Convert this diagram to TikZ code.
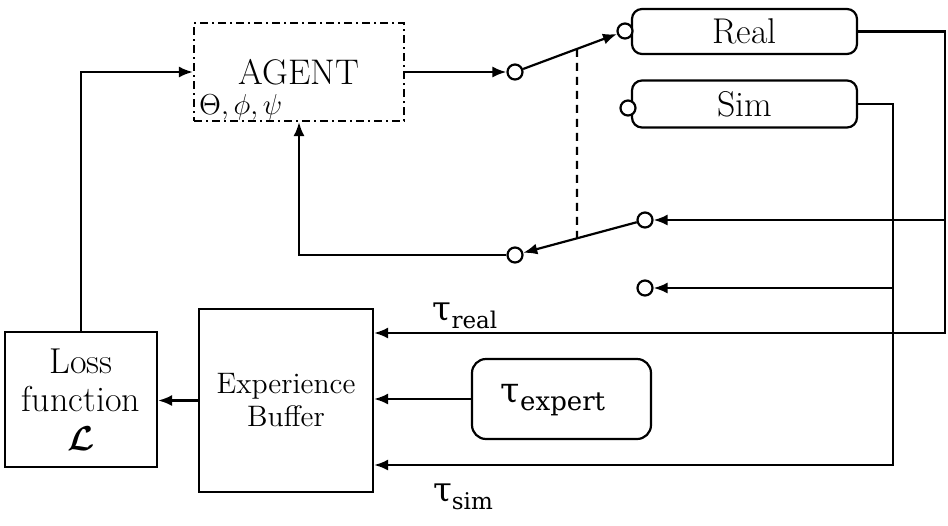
\documentclass[tikz,border=0pt]{standalone}
\usepackage{fontspec}
\usepackage{bm}
\usetikzlibrary{arrows.meta,calc}
\newfontfamily\taufont{DejaVu Serif}
\newcommand{\taulab}[3]{{\taufont\fontsize{#1}{#1}\selectfont τ\raisebox{-0.45ex}{\fontsize{#2}{#2}\selectfont #3}}}
\begin{document}
\begin{tikzpicture}[x=0.5pt,y=-0.5pt,line width=1.1pt,
  >={Latex[length=7pt,width=5.5pt]},
  box/.style={draw,rectangle,inner sep=0pt,align=center},
  rbox/.style={draw,rectangle,rounded corners=5pt,inner sep=0pt,align=center},
  contact/.style={draw,circle,minimum size=7.5pt,inner sep=0pt,fill=white},
  dashdot/.style={dash pattern=on 4pt off 2pt on 1pt off 2pt}]
\useasboundingbox (0,0) rectangle (948,525);

% blocks
\node[box,dashdot,minimum width=105pt,minimum height=49pt,font=\fontsize{17.8}{20}\selectfont] (agent) at (299,72) {AGENT};
\node[anchor=base west,inner sep=0pt,font=\fontsize{13.5}{14}\selectfont] (params) at (198,114) {$\Theta,\phi,\psi$};
\node[rbox,minimum width=112.5pt,minimum height=22.5pt,font=\fontsize{17.9}{18}\selectfont] (real) at (744.5,31.5) {Real};
\node[rbox,minimum width=112.5pt,minimum height=23.5pt,font=\fontsize{17.9}{18}\selectfont] (sim) at (744.5,104) {Sim};
\node[box,minimum width=87pt,minimum height=91.5pt,font=\fontsize{14.8}{16.5}\selectfont] (exp) at (286,400.5) {Experience\\Buffer};
\node[box,minimum width=76pt,minimum height=67.5pt,font=\fontsize{18}{19.2}\selectfont] (loss) at (81,399.5) {Loss\\function\\$\bm{\mathcal{L}}$};
\node[rbox,rounded corners=7pt,minimum width=89.5pt,minimum height=40pt] (expert) at (561.5,399) {};

% contacts
\node[contact] (c1) at (515,72) {};
\node[contact] (c2) at (625,31) {};
\node[contact] (c3) at (628,108) {};
\node[contact] (c4) at (645,220) {};
\node[contact] (c5) at (515,255) {};
\node[contact] (c6) at (645,288) {};

% bus corners
\coordinate (realbus) at (945,333);
\coordinate (simbus) at (893,465);

% connectors
\draw[->] (agent.east) -- (c1);
\draw[->] (c1) -- (c2);
\draw[->] (c4) -- (c5);
\draw[dashed,dash pattern=on 4pt off 3pt] ($(c1)!0.5636!(c2)$) -- ($(c4)!0.523!(c5)$);
\draw[->] (c5) -| (agent.south);
\draw[->] (loss.north) |- (agent.west);
\draw[->] (exp.west) -- (exp.west -| loss.east);
\draw[->] (expert.west) -- (expert.west -| exp.east);
\draw[->] (real.east) -| (realbus) -- (realbus -| exp.east);
\draw[->] (c4 -| realbus) -- (c4);
\draw[->] (sim.east) -| (simbus) -- (simbus -| exp.east);
\draw[->] (c6 -| simbus) -- (c6);

% labels
\node (tauexpert) at (553,400) {\taulab{17.5}{13}{expert}};
\node (taureal) at (465,316) {\taulab{17}{11.5}{real}};
\node (tausim) at (463,497) {\taulab{17}{11.5}{sim}};
\end{tikzpicture}
\end{document}
